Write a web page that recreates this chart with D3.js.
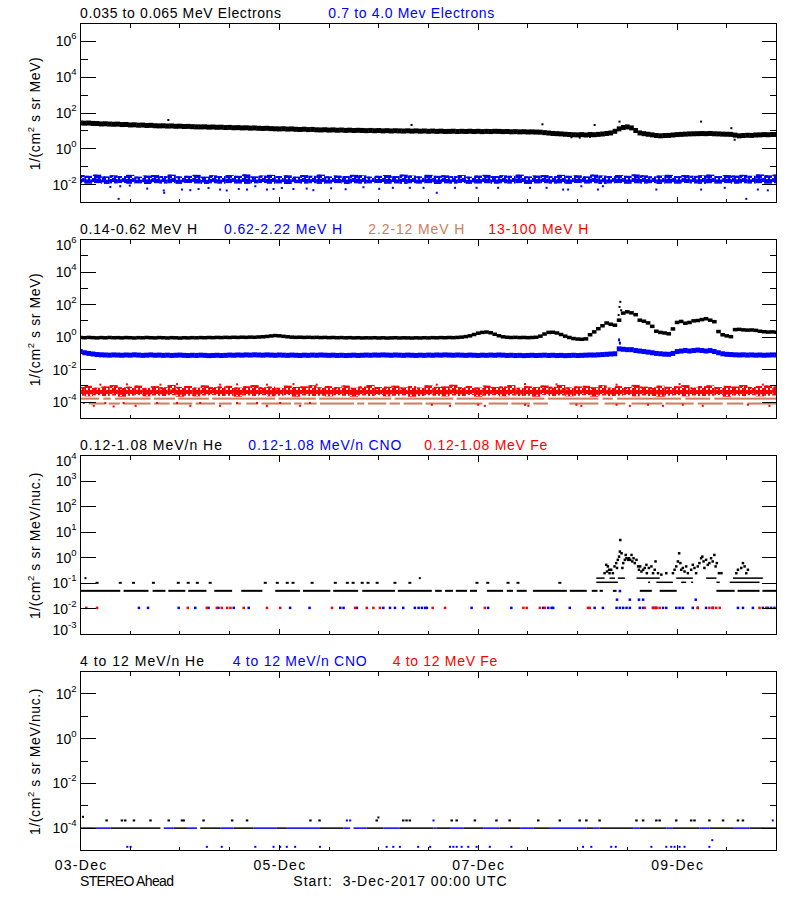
<!DOCTYPE html>
<html><head><meta charset="utf-8">
<script src="https://cdn.jsdelivr.net/npm/d3@7"></script>
<style>body{margin:0;background:#fff}svg{display:block}text{font-family:"Liberation Sans",Arial,Helvetica,sans-serif}</style>
</head><body><svg id="c" width="800" height="900"></svg>
<script>
// ---------------- DATA ----------------
// time axis: hours since 03-Dec-2017 00:00 UTC
const dateTickHours = [0, 48, 96, 144];
const dateTickLabels = ["03-Dec", "05-Dec", "07-Dec", "09-Dec"];

// panel titles
const p1Labels = ["0.035 to 0.065 MeV Electrons", "0.7 to 4.0 Mev Electrons"];
const p2Labels = ["0.14-0.62 MeV H", "0.62-2.22 MeV H", "2.2-12 MeV H", "13-100 MeV H"];
const p3Labels = ["0.12-1.08 MeV/n He", "0.12-1.08 MeV/n CNO", "0.12-1.08 MeV Fe"];
const p4Labels = ["4 to 12 MeV/n He", "4 to 12 MeV/n CNO", "4 to 12 MeV Fe"];

// y tick exponents
const p1Major = [6, 4, 2, 0, -2], p1Minor = [5, 3, 1, -1];
const p2Major = [6, 4, 2, 0, -2, -4], p2Minor = [5, 3, 1, -1, -3];
const p3Major = [4, 3, 2, 1, 0, -1, -2, -3], p3Minor = [];
const p4Major = [2, 0, -2, -4], p4Minor = [1, -1, -3];

// Panel 1: 0.035-0.065 MeV electrons, hourly (h = 0..168)
const eLow = [27.8,27.0,27.5,26.2,25.8,24.5,25.0,24.1,23.5,23.9,
 22.6,22.9,21.5,21.9,20.8,21.2,20.1,20.5,19.4,19.0,
 19.3,18.6,18.9,18.1,18.4,17.6,17.9,17.2,16.8,16.7,
 16.9,16.2,16.5,15.9,16.1,15.4,15.7,15.0,15.2,14.7,
 14.9,14.3,14.6,14.0,13.7,14.0,13.4,13.1,12.9,13.2,
 12.6,12.9,12.3,12.0,12.4,11.8,12.1,11.5,11.3,11.6,
 11.1,11.4,10.9,11.2,10.7,11.0,10.5,10.8,10.6,10.3,
 10.6,10.2,10.5,10.0,10.3,9.9,10.2,10.0,9.8,10.1,
 9.7,10.0,9.6,9.9,9.5,9.8,9.4,9.7,9.3,9.4,
 9.6,9.2,9.5,9.3,9.6,9.2,9.5,9.1,9.4,9.2,
 9.5,9.4,9.1,9.3,8.9,9.1,8.8,9.0,8.7,8.8,
 8.6,8.5,8.0,7.6,7.2,7.0,6.8,6.5,6.3,6.1,
 6.0,6.2,5.9,6.3,6.1,6.4,6.7,7.2,7.7,9.5,
 13.0,15.5,16.7,14.7,10.5,7.7,7.0,6.5,6.0,5.5,
 5.3,5.5,5.6,5.9,6.2,6.4,6.6,6.8,6.9,7.0,
 7.1,7.0,7.2,6.9,6.8,6.6,6.5,6.4,5.8,5.3,
 5.5,5.7,5.6,5.9,6.0,6.2,6.1,6.3,6.3];
const eLowOutliers = [[21.2,40.7],[79.9,21.5],[111.5,23.4],[124.1,21.5],[130.1,33],[149.8,33],[157.1,14.2],[157.9,3.2],[118.5,4.4],[120.5,4.2],[123.0,4.6]];
// Panel 1: 0.7-4.0 MeV electrons, 2-hour band edges (h = 0,2,..,168)
const eHighTop = [0.034,0.031,0.036,0.029,0.033,0.030,0.035,0.028,0.032,0.034,
 0.030,0.036,0.029,0.031,0.035,0.028,0.033,0.030,0.034,0.031,
 0.037,0.029,0.032,0.035,0.030,0.033,0.028,0.034,0.031,0.036,
 0.029,0.032,0.030,0.035,0.033,0.028,0.031,0.034,0.030,0.036,
 0.032,0.029,0.035,0.031,0.033,0.030,0.034,0.028,0.032,0.035,
 0.030,0.033,0.031,0.036,0.029,0.032,0.034,0.030,0.035,0.031,
 0.033,0.029,0.036,0.032,0.030,0.034,0.031,0.037,0.033,0.029,
 0.032,0.035,0.030,0.034,0.031,0.033,0.036,0.030,0.034,0.032,
 0.035,0.031,0.037,0.033,0.036];
const eHighBottom = [0.0118,0.0112,0.0121,0.0109,0.0116,0.0122,0.0111,0.0117,0.0108,0.0120,
 0.0113,0.0119,0.0110,0.0123,0.0115,0.0109,0.0118,0.0112,0.0121,0.0114,
 0.0110,0.0117,0.0122,0.0111,0.0116,0.0108,0.0120,0.0113,0.0119,0.0110,
 0.0115,0.0121,0.0109,0.0118,0.0112,0.0117,0.0123,0.0111,0.0116,0.0110,
 0.0119,0.0113,0.0120,0.0108,0.0117,0.0112,0.0122,0.0110,0.0115,0.0119,
 0.0111,0.0118,0.0113,0.0121,0.0109,0.0116,0.0120,0.0112,0.0117,0.0110,
 0.0122,0.0114,0.0119,0.0108,0.0116,0.0121,0.0111,0.0118,0.0113,0.0120,
 0.0109,0.0117,0.0112,0.0122,0.0115,0.0110,0.0119,0.0113,0.0121,0.0111,
 0.0118,0.0114,0.0120,0.0112,0.0117];
const eHighOutliers = [[7.2,0.0074],[9.6,0.0081],[11.9,0.0088],[16.1,0.006],[20.1,0.0047],[20.2,0.0035],[24.5,0.0053],[26.5,0.0049],[28.5,0.0057],[30.9,0.0065],[33.7,0.0053],[35.3,0.0047],[38.2,0.0057],[40.2,0.0053],[42.2,0.0081],[45.0,0.0053],[46.6,0.0057],[48.6,0.0065],[51.4,0.0057],[54.6,0.006],[56.2,0.0049],[9.2,0.0016],[60.5,0.0062],[64.0,0.0055],[68.3,0.0071],[72.1,0.0058],[75.4,0.0066],[79.5,0.0066],[82.8,0.0066],[86.0,0.0035],[90.4,0.0066],[95.6,0.0066],[100.8,0.0066],[108.5,0.0066],[112.5,0.0066],[116.5,0.0053],[117.7,0.0053],[120.9,0.0081],[124.9,0.0053],[126.1,0.0081],[139.0,0.0053],[149.8,0.0053],[155.5,0.0066],[160.7,0.0016],[163.5,0.0053],[165.9,0.0048]];

// Panel 2: 0.14-0.62 MeV H, hourly
const hLow = [0.95,0.92,0.96,0.93,0.90,0.94,0.91,0.95,0.92,0.93,
 0.90,0.94,0.92,0.89,0.93,0.91,0.95,0.92,0.90,0.94,
 0.92,0.89,0.93,0.91,0.88,0.92,0.90,0.93,0.91,0.94,
 0.92,0.95,0.93,0.96,0.94,0.97,0.95,0.98,0.96,0.99,
 0.97,1.00,0.98,1.02,1.05,1.10,1.18,1.25,1.20,1.12,
 1.05,1.00,0.97,0.99,0.96,0.98,0.95,0.97,0.94,0.96,
 0.93,0.95,0.92,0.94,0.91,0.93,0.90,0.92,0.89,0.91,
 0.90,0.92,0.89,0.91,0.88,0.90,0.92,0.89,0.91,0.90,
 0.88,0.91,0.89,0.92,0.90,0.93,0.91,0.94,0.92,0.95,
 0.93,0.96,1.00,1.08,1.20,1.45,1.75,1.95,2.05,1.85,
 1.50,1.22,1.05,0.98,0.95,0.97,0.94,0.96,0.93,0.95,
 0.98,1.15,1.55,1.95,2.00,1.80,1.45,1.15,0.95,0.82,
 0.76,0.74,0.78,1.40,2.10,3.30,5.00,7.40,6.20,5.40,
 11.0,30.0,36.0,31.0,24.0,11.0,9.5,7.5,4.6,2.3,
 1.95,1.80,1.60,3.20,8.00,9.20,7.20,8.00,10.0,10.5,
 12.0,13.5,11.0,8.9,2.2,1.40,1.20,1.07,2.90,3.00,
 2.80,2.70,2.75,2.60,2.30,2.15,2.05,2.10,2.00];
const hLowSpikes = [[129.9,23],[130.1,72],[130.3,148],[130.5,45]];
// Panel 2: 0.62-2.22 MeV H, hourly
const hMid = [0.13,0.11,0.10,0.092,0.085,0.082,0.080,0.078,0.081,0.079,
 0.077,0.080,0.078,0.082,0.079,0.076,0.078,0.081,0.077,0.079,
 0.076,0.078,0.075,0.077,0.079,0.076,0.074,0.077,0.075,0.078,
 0.076,0.073,0.075,0.077,0.074,0.076,0.079,0.077,0.080,0.078,
 0.081,0.079,0.082,0.080,0.078,0.081,0.079,0.077,0.080,0.078,
 0.076,0.079,0.077,0.075,0.078,0.076,0.079,0.077,0.080,0.078,
 0.076,0.078,0.075,0.077,0.074,0.076,0.078,0.075,0.077,0.079,
 0.077,0.080,0.078,0.081,0.079,0.077,0.080,0.078,0.076,0.079,
 0.077,0.075,0.078,0.076,0.079,0.077,0.080,0.078,0.081,0.079,
 0.077,0.080,0.078,0.076,0.079,0.077,0.075,0.078,0.076,0.079,
 0.077,0.080,0.078,0.075,0.077,0.074,0.076,0.073,0.075,0.077,
 0.074,0.076,0.078,0.075,0.077,0.074,0.076,0.073,0.075,0.077,
 0.074,0.076,0.078,0.080,0.079,0.082,0.085,0.088,0.092,0.095,
 0.19,0.18,0.17,0.17,0.15,0.14,0.13,0.12,0.11,0.10,
 0.095,0.090,0.088,0.10,0.13,0.14,0.15,0.14,0.15,0.16,
 0.15,0.14,0.15,0.13,0.11,0.095,0.088,0.085,0.082,0.080,
 0.082,0.079,0.081,0.078,0.080,0.077,0.079,0.081,0.080];
const hMidSpikes = [[130.0,0.68],[130.2,0.43]];
// Panel 2: 2.2-12 MeV H, one-count levels drawn as runs [start hour, end hour]
const hHighLevels = [1.66e-4, 8.3e-5];
const hHighRunsUpper = [[0,4.5],[5.5,7.3],[8.3,16.9],[17.7,22.8],[23.6,31.0],[31.8,47.0],[47.8,56.8],[57.6,75.0],[75.8,90.0],[90.8,112.0],[112.8,125.0],[126.0,128.5],[129.5,145.0],[146.0,152.0],[153,168]];
const hHighRunsLower = [[2.0,6.0],[6.8,9.5],[10.3,16.9],[17.8,21.5],[22.3,27.0],[27.8,32.5],[33.4,36.5],[37.5,38.8],[40.0,42.9],[43.7,50.8],[51.6,53.4],[54.0,57.0],[57.8,66.0],[66.8,68.5],[69.4,73.8],[74.6,77.1],[78.0,82.5],[83.3,89.5],[90.4,97.0],[98.5,103.2],[104.0,108.5],[109.3,112.8],[118.0,125.0],[126.5,131.5],[133.0,140.5],[141.2,148.0],[149.0,155.0],[156.0,160.0],[161.0,168.0]];
// Panel 2: 13-100 MeV H, 2-hour band edges + scattered points
const hTopTop = [8.6e-4,1.02e-3,7.8e-4,9.4e-4,1.12e-3,8.2e-4,9.0e-4,1.05e-3,7.6e-4,9.7e-4,
 8.4e-4,1.15e-3,8.8e-4,9.9e-4,7.9e-4,1.08e-3,8.5e-4,9.3e-4,1.01e-3,8.0e-4,
 9.6e-4,1.13e-3,8.3e-4,9.1e-4,7.7e-4,1.04e-3,8.7e-4,9.5e-4,1.10e-3,8.1e-4,
 9.8e-4,8.4e-4,1.06e-3,7.8e-4,9.2e-4,1.14e-3,8.6e-4,9.0e-4,1.03e-3,8.2e-4,
 9.7e-4,7.9e-4,1.09e-3,8.8e-4,9.4e-4,1.18e-3,8.3e-4,9.9e-4,8.0e-4,1.05e-3,
 8.7e-4,9.3e-4,1.12e-3,7.7e-4,9.6e-4,8.5e-4,1.07e-3,8.9e-4,1.15e-3,8.1e-4,
 9.4e-4,1.02e-3,8.4e-4,1.10e-3,7.8e-4,9.8e-4,8.6e-4,1.16e-3,9.1e-4,8.3e-4,
 1.04e-3,8.8e-4,9.5e-4,1.13e-3,8.0e-4,9.7e-4,1.08e-3,8.5e-4,1.01e-3,9.2e-4,
 1.14e-3,8.7e-4,9.9e-4,1.06e-3,9.3e-4];
const hTopBottom = [2.5e-4,2.3e-4,2.7e-4,2.4e-4,2.6e-4,2.2e-4,2.5e-4,2.8e-4,2.3e-4,2.6e-4,
 2.4e-4,2.7e-4,2.2e-4,2.5e-4,2.3e-4,2.6e-4,2.8e-4,2.4e-4,2.5e-4,2.2e-4,
 2.6e-4,2.4e-4,2.7e-4,2.3e-4,2.5e-4,2.8e-4,2.2e-4,2.6e-4,2.4e-4,2.5e-4,
 2.3e-4,2.7e-4,2.5e-4,2.2e-4,2.6e-4,2.4e-4,2.8e-4,2.3e-4,2.5e-4,2.6e-4,
 2.2e-4,2.4e-4,2.7e-4,2.5e-4,2.3e-4,2.6e-4,2.4e-4,2.8e-4,2.2e-4,2.5e-4,
 2.7e-4,2.3e-4,2.6e-4,2.4e-4,2.5e-4,2.2e-4,2.8e-4,2.4e-4,2.6e-4,2.3e-4,
 2.5e-4,2.7e-4,2.2e-4,2.6e-4,2.4e-4,2.5e-4,2.8e-4,2.3e-4,2.6e-4,2.4e-4,
 2.2e-4,2.5e-4,2.7e-4,2.3e-4,2.6e-4,2.4e-4,2.5e-4,2.8e-4,2.2e-4,2.6e-4,
 2.4e-4,2.7e-4,2.3e-4,2.5e-4,2.6e-4];
const hTopOutliers = [[0.8,9e-5],[3.2,6e-5],[6.0,9e-5],[8.0,5.5e-5],[10.4,9e-5],[13.3,6e-5],[18.5,9e-5],[23.3,9e-5],[26.5,6e-5],[28.9,9e-5],[33.7,6e-5],[37.8,9e-5],[42.6,9e-5],[45.0,6e-5],[48.2,9e-5],[53.0,6e-5],[55.4,9e-5],[84.8,7e-5],[89.2,6e-5],[96.0,7e-5],[97.6,6e-5],[107.3,7e-5],[108.1,6e-5],[119.7,7e-5],[120.9,6e-5],[129.4,7e-5],[132.6,6e-5],[137.0,7e-5],[140.6,6e-5],[145.4,7e-5],[150.2,6e-5],[161.1,7e-5],[166.3,6e-5],[4.8,1.2e-3],[11.2,1.25e-3],[19.3,1.2e-3],[23.3,1.3e-3],[33.7,1.2e-3],[37.8,1.25e-3],[45.0,1.2e-3],[51.4,1.3e-3],[57.0,1.2e-3],[86.0,1.2e-3],[107.3,1.3e-3],[114.9,1.25e-3],[129.4,1.2e-3],[144.6,1.3e-3],[164.7,1.2e-3]];

// Panel 3: 0.12-1.08 MeV/n He
const heLowLevels = [0.051, 0.105, 0.16, 0.11];
const heLowBaseRuns = [[0,9.6],[10.4,16.4],[17.4,20.5],[21.2,25.3],[26.0,30.4],[32.3,36.6],[38.8,43.9],[47.0,53.0],[53.7,60.3],[61.0,67.0],[68.0,75.9],[76.6,84.8],[85.6,87.2],[88.0,89.9],[90.6,93.3],[94.0,95.7],[98.1,102.0],[102.9,104.4],[105.3,107.7],[109.2,117.4],[118.1,122.2],[123.4,124.8],[125.3,126.1],[128.5,129.4],[135.0,137.9],[139.8,143.9],[153.5,157.9],[158.6,163.9],[164.6,167.9]];
const heLowUpperHours = [4.0,9.6,12.8,17.6,23.6,26.0,28.2,31.3,44.6,47.5,49.9,51.3,55.9,61.5,64.4,65.8,68.0,69.4,71.6,75.9,79.5,95.7,98.3,103.2,105.6,115.7];
const heLowSingles = [[1.2,0.16],[81.9,0.16]];
const heLowRuns016 = [[124.5,126.5],[127.7,129.0],[129.7,131.4],[134.2,139.8],[143.8,147.8],[151.0,153.5],[157.5,164.7]];
const heLowRuns011 = [[124.5,129.7],[137.0,137.4],[139.0,143.0],[145.0,146.2],[147.4,147.8],[153.5,154.3],[156.7,163.9]];
const heLowEvent = [[126.9,0.53],[127.3,0.46],[127.6,0.34],[127.1,0.29],[126.5,0.25],[127.7,0.25],[128.1,0.34],[128.5,0.25],[128.9,0.46],[129.3,0.62],[129.5,0.40],[129.7,0.83],[130.0,1.11],[130.2,1.75],[130.3,4.95],[130.6,1.50],[130.8,0.40],[131.0,0.62],[131.4,0.83],[131.6,1.29],[131.8,0.96],[132.2,0.83],[132.4,0.96],[132.7,0.83],[133.0,1.29],[133.2,0.72],[133.5,0.96],[133.8,0.62],[134.2,0.83],[134.6,0.46],[134.8,0.34],[135.1,0.46],[135.4,0.29],[135.8,0.34],[136.2,0.40],[136.6,0.53],[136.7,0.25],[137.2,0.40],[137.8,0.46],[138.2,0.25],[138.6,0.34],[138.8,0.72],[139.4,0.25],[140.2,0.22],[141.4,0.25],[143.0,0.25],[143.4,0.34],[143.8,0.46],[144.2,0.72],[144.5,1.50],[144.8,0.62],[145.0,0.34],[145.4,0.40],[145.8,0.29],[146.2,0.46],[146.6,0.25],[147.4,0.34],[147.8,0.53],[148.2,0.40],[148.6,0.25],[149.0,0.46],[149.4,0.62],[149.8,0.96],[150.1,1.11],[150.4,0.72],[150.6,0.40],[151.0,0.83],[151.4,0.53],[151.8,0.62],[152.2,0.96],[152.6,0.72],[153.0,1.29],[153.3,0.46],[153.6,0.62],[154.1,0.25],[154.7,0.25],[158.3,0.25],[158.7,0.34],[159.5,0.40],[159.9,0.62],[160.3,0.46],[160.7,0.25],[161.1,0.34]];
// Panel 3: CNO and Fe (one-count level)
const lowZLevel = 0.011;
const cnoLowHours = [14.1,16.3,23.7,27.7,30.9,33.3,37.0,40.6,50.6,55.3,62.7,63.5,66.7,73.1,74.7,75.9,77.9,80.7,81.6,82.4,83.2,83.6,94.4,98.4,104.0,111.7,112.9,113.7,114.1,118.1,124.1,126.1,129.4,130.2,131.0,131.8,132.6,135.0,135.8,138.2,139.0,140.6,141.4,143.8,144.6,145.4,147.8,149.0,151.0,152.6,158.7,159.9,162.3,164.7,165.9,166.7,167.5];
const cnoLowExtra = [[129.5,0.023],[132.6,0.023],[134.8,0.023],[135.8,0.023],[148.5,0.023],[130.2,0.05]];
const feLowHours = [1.4,4.0,25.9,30.5,32.9,34.1,35.4,36.2,39.4,45.0,48.2,60.7,66.3,69.1,70.7,72.3,85.0,88.0,97.6,106.9,107.7,110.9,112.1,122.5,122.9,136.2,138.2,138.6,139.0,139.8,149.0,151.8,152.6,153.4,154.3,163.9,165.5];

// Panel 4: 4-12 MeV/n
const highMainLevel = 1.0e-4, highUpperLevel = 2.2e-4, cnoHighLowLevel = 1.46e-5;
const heHighRuns = [[0,3.2],[7.2,19.3],[22.5,25.7],[28.9,33.7],[37.0,41.8],[47.4,49.8],[57.8,63.5],[69.1,73.1],[77.1,85.2],[86.0,89.2],[92.4,97.2],[101.2,106.1],[109.3,113.3],[122.1,123.7],[125.3,133.4],[135.0,141.4],[143.0,149.4],[151.8,157.5],[161.5,167.9]];
const heHighUpperHours = [6.3,10.0,10.8,12.9,16.9,21.3,24.5,24.9,29.7,36.6,40.2,55.5,57.7,71.5,77.9,78.7,79.5,89.6,90.8,95.2,100.4,103.6,110.5,115.7,120.5,122.1,125.3,134.2,135.8,139.0,139.8,143.8,147.4,148.2,151.8,155.1,158.7,159.9];
const heHighSingles = [[0.6,3.2e-4],[71.9,3.0e-4]];
const cnoHighRuns = [[3.2,7.2],[20.1,22.5],[25.7,28.1],[33.7,37.0],[41.8,47.4],[49.8,57.8],[63.5,65.1],[65.9,69.1],[73.1,77.1],[85.2,86.0],[89.2,92.4],[97.2,101.2],[106.1,109.3],[113.3,122.1],[123.7,125.3],[133.4,135.0],[141.4,143.0],[149.4,151.8],[157.5,161.5]];
const cnoHighUpperHours = [64.3,65.1,85.2,167.1];
const cnoHighLowHours = [11.3,12.1,30.5,34.1,42.2,46.6,48.2,49.8,51.8,57.8,73.9,75.5,77.1,81.5,84.4,89.2,90.0,90.8,92.0,93.6,95.6,98.8,104.0,121.3,123.3,128.1,129.2,137.8,141.4,142.6,143.4,144.6,145.8,151.8];
const cnoHighSingles = [[152.5,2.9e-5]];

// ---------------- LAYOUT / STYLE ----------------
const C = {k:"#000000", b:"#0000ff", s:"#cd7c5e", r:"#ff0000"};
const svg = d3.select("#c");
const tops = [23, 239, 455, 671], PH = 179;
const X0 = 80.5, X1 = 776.5;
const x = d3.scaleLinear().domain([0, 168]).range([X0, X1]);
const domains = [[1e-3,1e7],[1e-5,1e6],[1e-3,1e4],[1e-5,1e3]];
const ys = domains.map((d,i) => d3.scaleLog().domain(d).range([tops[i]+PH+0.5, tops[i]+0.5]));
const majors = [p1Major,p2Major,p3Major,p4Major], minors = [p1Minor,p2Minor,p3Minor,p4Minor];
const titles = [p1Labels,p2Labels,p3Labels,p4Labels];
const titleColors = [[C.k,C.b],[C.k,C.b,C.s,C.r],[C.k,C.b,C.r],[C.k,C.b,C.r]];
const titleX = [[80,328.3],[80,224,368.3,488.3],[80,248.3,424.3],[80,232.7,392.7]];
const titleW = [[201,166],[117,118,96,100],[142,153,123],[124,134,104.6]];
const yUnits = ["MeV","MeV","MeV/nuc.","MeV/nuc."];
const hours = d3.range(169);
const blockHours = d3.range(0, 169, 2);
const crisp = v => Math.round(v - 0.5) + 0.5;

const defs = svg.append("defs");
// speckled fills for dense scatter bands (style only)
function speckle(id, color){
  const p = defs.append("pattern").attr("id",id).attr("patternUnits","userSpaceOnUse")
    .attr("width",10).attr("height",6);
  const cells = [[0,0],[2,0],[6,0],[8,0],[0,2],[4,2],[6,2],[2,4],[4,4],[8,4],[4,0],[8,2]];
  cells.forEach(c => p.append("rect").attr("x",c[0]).attr("y",c[1]).attr("width",2).attr("height",2).attr("fill",color));
}
speckle("spB", C.b); speckle("spR", C.r);

const G = tops.map((t,i) => {
  defs.append("clipPath").attr("id","cp"+i).append("rect")
    .attr("x",X0).attr("y",t+0.5).attr("width",X1-X0).attr("height",PH);
  return svg.append("g").attr("clip-path",`url(#cp${i})`);
});

function dots(g, y, pts, color, w, h){
  g.append("g").selectAll("rect").data(pts).join("rect")
    .attr("x", d => x(d[0]) - w/2).attr("y", d => y(d[1]) - h/2)
    .attr("width", w).attr("height", h).attr("fill", color);
}
function series(g, y, vals, color, w, h){
  dots(g, y, hours.map((hh,i) => [hh, vals[i]]), color, w, h);
}
function band(g, y, top, bot, color, fill){
  const d = blockHours.map((hh,i)=>[hh,top[i],bot[i]]);
  const bx0 = d => x(Math.max(0,d[0]-1)), bw = d => x(Math.min(168,d[0]+1)) - bx0(d);
  g.append("g").selectAll("rect").data(d).join("rect")
    .attr("x", bx0).attr("width", bw)
    .attr("y", d => y(d[1])).attr("height", d => y(d[2]) - y(d[1])).attr("fill", fill);
  // solid core and ragged edge dots
  g.append("g").selectAll("rect").data(d).join("rect")
    .attr("x", bx0).attr("width", bw)
    .attr("y", d => (y(d[1])*0.55 + y(d[2])*0.45)).attr("height", d => (y(d[2]) - y(d[1]))*0.35).attr("fill", color);
  g.append("g").selectAll("rect").data(d).join("rect")
    .attr("x", d => bx0(d) + 1).attr("width", 3)
    .attr("y", d => y(d[1])).attr("height", 2).attr("fill", color);
}
function runs(g, y, segs, level, color, h){
  g.append("g").selectAll("rect").data(segs).join("rect")
    .attr("x", d => x(d[0])).attr("width", d => Math.max(2, x(d[1]) - x(d[0])))
    .attr("y", y(level) - h/2).attr("height", h).attr("fill", color);
}
const at = (hs, v) => hs.map(hh => [hh, v]);

// ---- Panel 1
series(G[0], ys[0], eLow, C.k, 4.6, 5);
dots(G[0], ys[0], eLowOutliers, C.k, 2, 2);
band(G[0], ys[0], eHighTop, eHighBottom, C.b, "url(#spB)");
dots(G[0], ys[0], eHighOutliers, C.b, 2, 2);

// ---- Panel 2
series(G[1], ys[1], hLow, C.k, 4.6, 3.5);
dots(G[1], ys[1], hLowSpikes, C.k, 2, 2);
series(G[1], ys[1], hMid, C.b, 4.6, 5);
dots(G[1], ys[1], hMidSpikes, C.b, 2, 3);
runs(G[1], ys[1], hHighRunsUpper, hHighLevels[0], C.s, 2);
runs(G[1], ys[1], hHighRunsLower, hHighLevels[1], C.s, 2);
band(G[1], ys[1], hTopTop, hTopBottom, C.r, "url(#spR)");
dots(G[1], ys[1], hTopOutliers, C.r, 2, 2);

// ---- Panel 3
runs(G[2], ys[2], heLowBaseRuns, heLowLevels[0], C.k, 2);
dots(G[2], ys[2], at(heLowUpperHours, heLowLevels[1]), C.k, 3, 2);
dots(G[2], ys[2], heLowSingles, C.k, 2, 2);
runs(G[2], ys[2], heLowRuns016, heLowLevels[2], C.k, 1.5);
runs(G[2], ys[2], heLowRuns011, heLowLevels[3], C.k, 1.5);
dots(G[2], ys[2], heLowEvent, C.k, 2.5, 2.5);
dots(G[2], ys[2], at(cnoLowHours, lowZLevel), C.b, 2.5, 2.5);
dots(G[2], ys[2], cnoLowExtra, C.b, 2.5, 2.5);
dots(G[2], ys[2], at(feLowHours, lowZLevel), C.r, 2.5, 2.5);

// ---- Panel 4
runs(G[3], ys[3], heHighRuns, highMainLevel, C.k, 1.5);
runs(G[3], ys[3], cnoHighRuns, highMainLevel, C.b, 1.5);
dots(G[3], ys[3], at(heHighUpperHours, highUpperLevel), C.k, 2.5, 2);
dots(G[3], ys[3], heHighSingles, C.k, 2, 2);
dots(G[3], ys[3], at(cnoHighUpperHours, highUpperLevel), C.b, 2, 2);
dots(G[3], ys[3], at(cnoHighLowHours, cnoHighLowLevel), C.b, 2, 2);
dots(G[3], ys[3], cnoHighSingles, C.b, 2, 2);

// ---- Frames, ticks, labels
tops.forEach((t,i) => {
  const y = ys[i];
  const ax = svg.append("g").attr("shape-rendering","crispEdges").attr("stroke","#000").attr("stroke-width",1);
  ax.append("rect").attr("x",X0).attr("y",t+0.5).attr("width",X1-X0).attr("height",PH).attr("fill","none");
  const yt = [...majors[i].map(e=>[e,15]), ...minors[i].map(e=>[e,7])];
  yt.forEach(([e,len]) => {
    const yy = crisp(y(Math.pow(10,e)));
    ax.append("line").attr("x1",X0).attr("x2",X0+len).attr("y1",yy).attr("y2",yy);
    ax.append("line").attr("x1",X1).attr("x2",X1-len).attr("y1",yy).attr("y2",yy);
  });
  d3.range(12, 168, 12).forEach(hh => {
    const xx = crisp(x(hh)); const len = dateTickHours.includes(hh) ? 6 : 4;
    ax.append("line").attr("x1",xx).attr("x2",xx).attr("y1",t+0.5).attr("y2",t+0.5+len);
    ax.append("line").attr("x1",xx).attr("x2",xx).attr("y1",t+PH+0.5).attr("y2",t+PH+0.5-len);
  });
  majors[i].forEach(e => {
    let yc = y(Math.pow(10,e));
    yc = Math.max(t + 6, Math.min(t + PH - 4.5, yc));
    const tx = svg.append("text").attr("x",76.5).attr("y",yc+5).attr("text-anchor","end").attr("font-size",14);
    tx.append("tspan").text("10");
    tx.append("tspan").attr("dy",-7).attr("font-size",9.5).text(String(e));
  });
  const tt = svg.append("text").attr("transform",`translate(40,${t+PH/2+1}) rotate(-90)`)
    .attr("text-anchor","middle").attr("font-size",14).attr("letter-spacing",0.6);
  tt.append("tspan").text("1/(cm");
  tt.append("tspan").attr("dy",-6).attr("font-size",9.5).text("2");
  tt.append("tspan").attr("dy",6).text(" s sr " + yUnits[i] + ")");
  titles[i].forEach((lab,j) => {
    svg.append("text").attr("x",titleX[i][j]).attr("y",t-4.7).attr("font-size",14)
      .attr("fill",titleColors[i][j]).attr("textLength",titleW[i][j]).attr("lengthAdjust","spacing").text(lab);
  });
});

dateTickHours.forEach((hh,i) => {
  svg.append("text").attr("x",x(hh)).attr("y",870).attr("text-anchor","middle").attr("font-size",14)
    .attr("textLength",51.7).attr("lengthAdjust","spacing").text(dateTickLabels[i]);
});
svg.append("text").attr("x",80).attr("y",885.7).attr("font-size",14).attr("textLength",94).attr("lengthAdjust","spacing").text("STEREO Ahead");
svg.append("text").attr("x",293.3).attr("y",885.7).attr("font-size",14).attr("textLength",213.4).attr("lengthAdjust","spacing").attr("xml:space","preserve").text("Start:  3-Dec-2017 00:00 UTC");
</script></body></html>
